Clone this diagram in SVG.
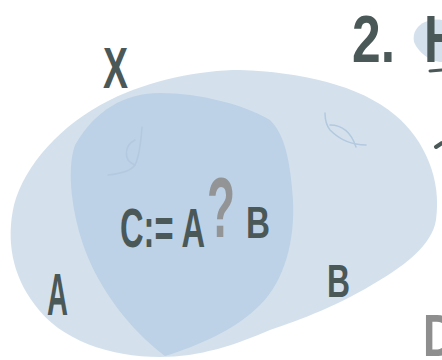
<svg xmlns="http://www.w3.org/2000/svg" width="442" height="360" viewBox="0 0 442 360">
<style>
.t{font-family:"Liberation Sans",Arial,sans-serif;fill:#4a5857;font-weight:bold;}
.g{font-family:"Liberation Sans",Arial,sans-serif;fill:#8e8e8e;font-weight:bold;}
.leaf{fill:none;stroke:#b3c9df;stroke-width:1.5;stroke-linecap:round}
</style>
<rect width="442" height="360" fill="#ffffff"/>
<g id="setX">
<path d="M240 70 C300 72 360 85 395 115 C425 140 442 180 436 220 C432 245 405 265 380 280 C340 305 300 320 270 330 C235 345 200 357 160 357 C110 357 60 340 35 305 C12 275 6 240 14 205 C25 165 60 125 110 100 C150 80 200 70 240 70 Z" fill="#d4e1ed"/>
</g>
<g id="setC">
<path d="M160 93 C200 93 245 105 270 120 C285 135 290 160 293 200 C295 240 285 280 260 305 C235 330 200 345 165 356 C130 330 100 290 85 250 C72 215 66 170 75 145 C95 110 125 93 160 93 Z" fill="#bdd2e6"/>
</g>
<g id="blobH">
<path d="M425 22 C435 18 442 20 442 20 L442 62 C430 62 418 52 414 42 C412 32 418 25 425 22 Z" fill="#d4e1ed"/>
</g>
<g id="leaves">
<path class="leaf" d="M142 127 C141 140 140 155 135 165 C130 172 118 174 108 175"/>
<path class="leaf" d="M135 165 C122 160 125 145 135 140"/>
<path class="leaf" d="M325 113 C325 120 326 125 330 130 C340 140 352 145 366 145"/>
<path class="leaf" d="M330 125 C345 125 352 135 356 147"/>
</g>
<g id="labels">
<text class="t" x="103" y="88" font-size="58" textLength="25" lengthAdjust="spacingAndGlyphs">X</text>
<text class="t" x="352" y="62" font-size="66" textLength="43" lengthAdjust="spacingAndGlyphs">2.</text>
<text class="t" x="424" y="62" font-size="66" textLength="36" lengthAdjust="spacingAndGlyphs">H</text>
<text class="t" x="120" y="247" font-size="56" textLength="85" lengthAdjust="spacingAndGlyphs">C:= A</text>
<text class="t" x="246" y="238" font-size="45" textLength="24" lengthAdjust="spacingAndGlyphs">B</text>
<text class="g" x="207" y="237" font-size="86" textLength="28" lengthAdjust="spacingAndGlyphs" opacity="0.9">?</text>
<text class="t" x="47" y="315" font-size="60" textLength="21" lengthAdjust="spacingAndGlyphs">A</text>
<text class="t" x="327" y="297" font-size="46" textLength="23" lengthAdjust="spacingAndGlyphs">B</text>
<text class="g" x="423" y="356" font-size="60" textLength="32" lengthAdjust="spacingAndGlyphs">D</text>
</g>
<g id="marks">
<path d="M430 71 L442 70" stroke="#4a5857" stroke-width="3" stroke-linecap="round"/>
<path d="M436 147 L442 143" stroke="#4a5857" stroke-width="4" stroke-linecap="round"/>
</g>
</svg>
